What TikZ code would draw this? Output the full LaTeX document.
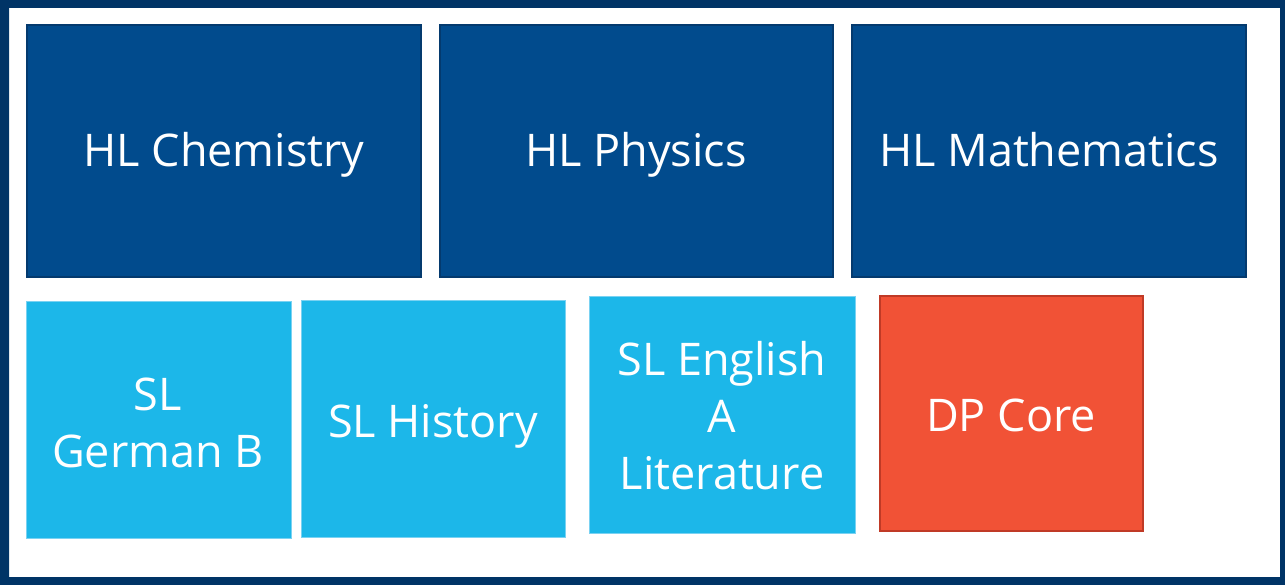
\documentclass[tikz,border=0pt]{standalone}
\usepackage{fontspec}
\setmainfont{Open Sans}
\begin{document}
\definecolor{frame}{HTML}{003466}
\definecolor{hlfill}{HTML}{014B8D}
\definecolor{hledge}{HTML}{043A6E}
\definecolor{slfill}{HTML}{1CB7E9}
\definecolor{sledge}{HTML}{7AD2F2}
\definecolor{corefill}{HTML}{F15236}
\definecolor{coreedge}{HTML}{C03A26}
\begin{tikzpicture}[x=1pt,y=-1pt,
  subject/.style={font=\fontsize{45}{57}\selectfont, text=white, align=center, inner sep=0pt, anchor=base},
  hlbox/.style={fill=hlfill, draw=hledge, line width=2pt},
  slbox/.style={fill=slfill, draw=sledge, line width=1pt},
  corebox/.style={fill=corefill, draw=coreedge, line width=2pt}]
\useasboundingbox (0,0) rectangle (1285,585);
% outer frame
\fill[frame, even odd rule] (0,0) rectangle (1285,585) (9,8) rectangle (1280,577);
% higher level row
\draw[hlbox] (27,25) rectangle (421,277);
\node[subject] (chem) at (224,167) {HL Chemistry};
\draw[hlbox] (440,25) rectangle (833,277);
\node[subject] (phys) at (636,167) {HL Physics};
\draw[hlbox] (852,25) rectangle (1246,277);
\node[subject] (math) at (1049,167) {HL Mathematics};
% standard level row (multi-line labels sit on their last baseline)
\draw[slbox] (26,302) rectangle (291,538);
\node[subject] (germ) at (158,467) {SL\\German B};
\draw[slbox] (301,301) rectangle (565,537);
\node[subject] (hist) at (433,437) {SL History};
\draw[slbox] (589,297) rectangle (855,533);
\node[subject] (engl) at (722,489) {SL English\\A\\Literature};
\draw[corebox] (880,296) rectangle (1143,531);
\node[subject] (core) at (1011,431) {DP Core};
\end{tikzpicture}
\end{document}
